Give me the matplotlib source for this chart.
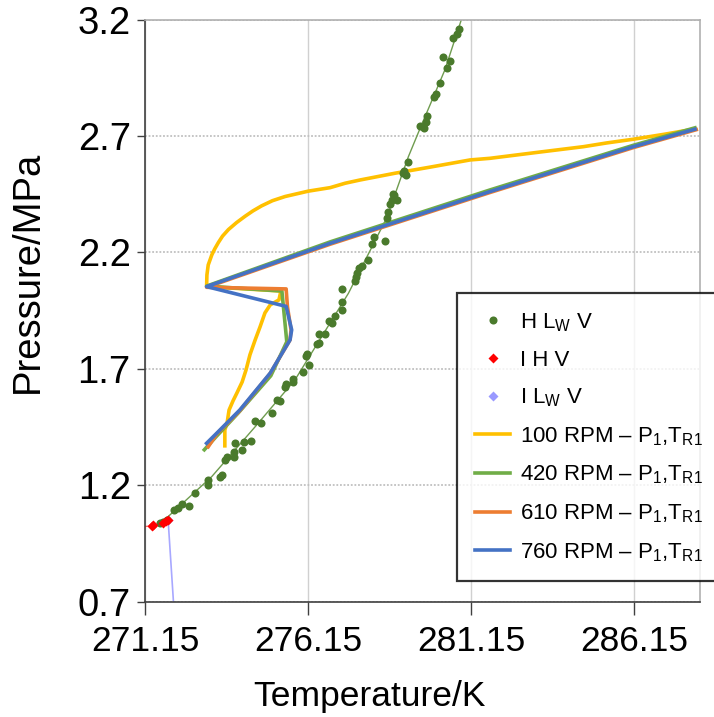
import numpy as np
import matplotlib
matplotlib.use("Agg")
import matplotlib.pyplot as plt

plt.rcParams['font.family'] = ['Liberation Sans', 'DejaVu Sans']
plt.rcParams['mathtext.fontset'] = 'custom'
plt.rcParams['mathtext.rm'] = 'Liberation Sans'
plt.rcParams['mathtext.it'] = 'Liberation Sans:italic'

# ---- H-Lw-V equilibrium measurements (T in K, P in MPa) ----
hlwv_T = [271.60, 271.70, 271.81, 272.04, 272.16, 272.28, 272.50, 272.67, 273.08, 273.08,
          273.44, 273.51, 273.59, 273.65, 273.88, 273.88, 273.90, 274.11, 274.19, 274.39,
          274.51, 274.70, 275.03, 275.19, 275.28, 275.43, 275.47, 275.67, 275.69, 275.98,
          276.18, 276.08, 276.12, 276.41, 276.49, 276.49, 276.66, 276.79, 276.87, 276.98,
          277.17, 277.17, 277.17, 277.58, 277.61, 277.65, 277.71, 277.79, 277.99, 278.09,
          278.17, 278.50, 278.55, 278.59, 278.66, 278.71, 278.79, 278.86, 278.74, 279.06,
          279.14, 279.09, 279.20, 279.58, 279.71, 279.76, 279.78, 280.01, 280.06, 280.19,
          280.41, 280.27, 280.50, 280.58, 280.70, 280.78]
hlwv_P = [1.039, 1.043, 1.050, 1.093, 1.101, 1.119, 1.111, 1.165, 1.222, 1.201,
          1.237, 1.244, 1.308, 1.320, 1.320, 1.344, 1.380, 1.351, 1.387, 1.391,
          1.477, 1.466, 1.509, 1.566, 1.563, 1.623, 1.635, 1.645, 1.655, 1.685,
          1.718, 1.755, 1.764, 1.807, 1.812, 1.849, 1.849, 1.907, 1.895, 1.927,
          1.953, 1.988, 2.044, 2.078, 2.096, 2.113, 2.132, 2.142, 2.167, 2.236,
          2.265, 2.250, 2.348, 2.375, 2.408, 2.425, 2.447, 2.425, 2.450, 2.540,
          2.532, 2.551, 2.590, 2.744, 2.733, 2.759, 2.786, 2.866, 2.880, 2.926,
          2.991, 3.041, 3.022, 3.120, 3.137, 3.160]

# H-Lw-V correlation curve
curve_T = [271.60, 273.19, 274.52, 275.74, 277.38, 278.55, 279.22, 279.58, 280.34, 280.86, 280.95]
curve_P = [1.033, 1.237, 1.451, 1.652, 2.024, 2.347, 2.611, 2.733, 2.984, 3.206, 3.240]

# I-H-V points
ihv_T = [270.99, 271.35, 271.40, 271.70, 271.78, 271.85]
ihv_P = [1.020, 1.026, 1.028, 1.039, 1.045, 1.050]

# I-Lw-V line
ilwv_T = [271.85, 272.01, 272.05]
ilwv_P = [1.050, 0.707, 0.600]

# ---- Reactor P1,TR1 trajectories ----
rpm100_T = [287.96, 287.10, 286.12, 285.30, 284.59, 283.20, 281.72, 281.11, 279.88, 278.81,
            277.74, 277.28, 276.82, 276.15, 275.44, 275.05, 274.72, 274.45, 274.21, 273.95,
            273.70, 273.52, 273.39, 273.28, 273.19, 273.08, 273.04, 273.03,
            275.31, 275.25, 274.98, 274.82, 274.67, 274.52, 274.36, 274.24, 274.12, 273.96,
            273.84, 273.72, 273.66, 273.59, 273.59]
rpm100_P = [2.729, 2.708, 2.686, 2.670, 2.654, 2.630, 2.604, 2.597, 2.566, 2.540,
            2.511, 2.497, 2.478, 2.463, 2.440, 2.422, 2.400, 2.378, 2.355, 2.328,
            2.298, 2.270, 2.242, 2.215, 2.189, 2.146, 2.103, 2.053,
            2.034, 1.996, 1.974, 1.940, 1.880, 1.824, 1.760, 1.695, 1.643, 1.596,
            1.562, 1.523, 1.468, 1.437, 1.369]

rpm420_T = [288.01, 286.12, 281.72, 276.82, 273.03, 275.34, 275.49, 275.00, 274.00, 273.30, 272.96]
rpm420_P = [2.735, 2.660, 2.468, 2.245, 2.055, 2.034, 1.816, 1.670, 1.510, 1.405, 1.352]

rpm610_T = [288.05, 286.12, 281.72, 276.82, 273.03, 275.47, 275.51, 275.62, 275.59, 274.98, 274.05, 273.34, 273.08]
rpm610_P = [2.727, 2.650, 2.457, 2.235, 2.050, 2.043, 1.967, 1.867, 1.824, 1.680, 1.520, 1.420, 1.365]

rpm760_T = [288.01, 286.12, 281.72, 276.82, 273.03, 275.47, 275.64, 275.59, 274.98, 274.05, 273.34, 273.03]
rpm760_P = [2.729, 2.654, 2.461, 2.239, 2.053, 1.968, 1.867, 1.824, 1.681, 1.523, 1.423, 1.380]

x_ticks = [271.15, 276.15, 281.15, 286.15]
y_ticks = [0.7, 1.2, 1.7, 2.2, 2.7, 3.2]

fig = plt.figure(figsize=(7.14, 7.17), dpi=100)
ax = fig.add_axes([0.2035, 0.161, 0.7762, 0.8117])

# grid: solid vertical, dotted horizontal
for xt in x_ticks:
    ax.axvline(xt, color='#d0d0d0', lw=1.0, zorder=0)
for yt in y_ticks:
    ax.axhline(yt, color='#c0c0c0', lw=1.3, ls=(0, (1, 1)), zorder=0)

ax.plot(curve_T, curve_P, color='#6f9c4f', lw=1.0, zorder=2)
ax.plot(ihv_T, ihv_P, color='#ff5050', lw=0.8, zorder=2)
ax.plot(ilwv_T, ilwv_P, color='#a8a8ff', lw=1.2, zorder=2)

lw = 2.6
ax.plot(rpm100_T, rpm100_P, color='#ffc000', lw=lw, zorder=3, label='100 RPM – P$_1$,T$_{\\mathrm{R1}}$')
ax.plot(rpm420_T, rpm420_P, color='#70ad47', lw=lw, zorder=3, label='420 RPM – P$_1$,T$_{\\mathrm{R1}}$')
ax.plot(rpm610_T, rpm610_P, color='#ed7d31', lw=lw, zorder=3, label='610 RPM – P$_1$,T$_{\\mathrm{R1}}$')
ax.plot(rpm760_T, rpm760_P, color='#4472c4', lw=lw, zorder=3, label='760 RPM – P$_1$,T$_{\\mathrm{R1}}$')

ax.plot(hlwv_T, hlwv_P, 'o', color='#4a7a2c', ms=5.8, mec='none', zorder=4, label='H L$_{\\mathrm{W}}$ V')
ax.plot(ihv_T, ihv_P, 'D', color='#ff0000', ms=5, mec='none', zorder=4, label='I H V')
ax.plot(ilwv_T[:1], ilwv_P[:1], 'D', color='#9999ff', ms=5, mec='none', zorder=1, label='I L$_{\\mathrm{W}}$ V')

ax.set_xlim(271.15, 288.15)
ax.set_ylim(0.7, 3.2)
ax.set_xticks(x_ticks)
ax.set_yticks(y_ticks)
ax.set_xticklabels([f'{v:.2f}' for v in x_ticks])
ax.set_yticklabels([f'{v:.1f}' for v in y_ticks])
ax.tick_params(axis='both', direction='out', width=1.0, color='#404040')
ax.tick_params(axis='x', length=9, pad=8, labelsize=25.5)
ax.tick_params(axis='y', length=6, pad=4.5, labelsize=27.5)

for side in ['left', 'bottom']:
    ax.spines[side].set_color('#404040')
    ax.spines[side].set_linewidth(1.2)
for side in ['top', 'right']:
    ax.spines[side].set_color('#b0b0b0')
    ax.spines[side].set_linewidth(1.2)

ax.set_xlabel('Temperature/K', fontsize=25.5)
ax.set_ylabel('Pressure/MPa', fontsize=27.5)
ax.xaxis.set_label_coords(0.405, -0.135)
ax.yaxis.set_label_coords(-0.18, 0.566)

handles, labels = ax.get_legend_handles_labels()
order = [4, 5, 6, 0, 1, 2, 3]
leg = fig.legend([handles[i] for i in order], [labels[i] for i in order],
                 loc='upper left', bbox_to_anchor=(0.640, 0.591), fontsize=16,
                 frameon=True, fancybox=False, edgecolor='black', borderpad=0.8,
                 labelspacing=0.72, handlelength=1.6, handletextpad=0.45,
                 borderaxespad=0.0, numpoints=1)
leg.get_frame().set_linewidth(1.6)

fig.savefig('out.png', dpi=100)
